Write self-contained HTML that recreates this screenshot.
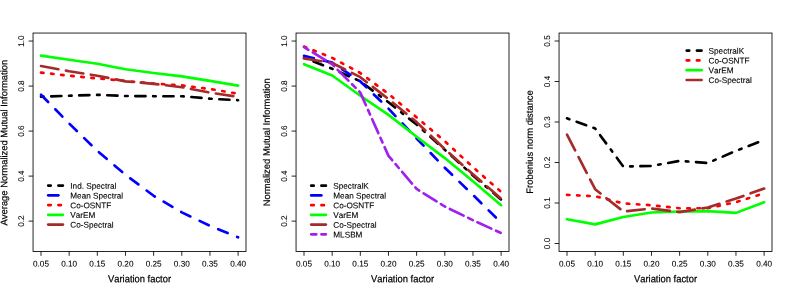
<!DOCTYPE html>
<html><head><meta charset="utf-8"><title>chart</title>
<style>html,body{margin:0;padding:0;background:#fff}body{width:789px;height:293px;overflow:hidden;position:relative;font-family:"Liberation Sans",sans-serif;font-size:0;line-height:0;color:transparent}svg{position:absolute;left:0;top:0}</style></head>
<body>
<svg width="789" height="293" viewBox="0 0 789 293" style="display:block;font-family:'Liberation Sans',sans-serif;font-kerning:none" text-rendering="geometricPrecision">
<rect width="789" height="293" fill="#fff"/>
<polyline points="41.00,96.65 69.16,95.75 97.32,94.85 125.48,95.97 153.64,96.20 181.80,96.20 209.96,98.68 238.12,100.25" fill="none" stroke="#000000" stroke-width="2.65" stroke-linecap="round" stroke-linejoin="round" stroke-dasharray="2.55,7.65,10.20,7.65"/>
<polyline points="41.00,94.74 69.16,123.44 97.32,150.90 125.48,174.76 153.64,195.81 181.80,212.35 209.96,225.86 238.12,237.34" fill="none" stroke="#0000ff" stroke-width="2.65" stroke-linecap="round" stroke-linejoin="round" stroke-dasharray="10.20,10.20"/>
<polyline points="41.00,72.56 69.16,75.72 97.32,78.42 125.48,80.89 153.64,83.59 181.80,85.39 209.96,89.00 238.12,93.72" fill="none" stroke="#ff0000" stroke-width="2.65" stroke-linecap="round" stroke-linejoin="round" stroke-dasharray="2.53,7.59"/>
<polyline points="41.00,55.68 69.16,59.73 97.32,63.79 125.48,69.19 153.64,73.01 181.80,76.39 209.96,80.89 238.12,85.62" fill="none" stroke="#00ff00" stroke-width="2.65" stroke-linecap="round" stroke-linejoin="round"/>
<polyline points="41.00,66.04 69.16,71.21 97.32,75.72 125.48,81.34 153.64,83.82 181.80,87.20 209.96,92.60 238.12,96.87" fill="none" stroke="#a52a2a" stroke-width="2.65" stroke-linecap="round" stroke-linejoin="round" stroke-dasharray="17.71,7.59"/>
<rect x="33.05" y="33.05" width="212.95" height="218.45" fill="none" stroke="#000" stroke-width="0.85"/>
<line x1="41.00" y1="251.50" x2="41.00" y2="255.80" stroke="#000" stroke-width="0.85"/>
<line x1="69.16" y1="251.50" x2="69.16" y2="255.80" stroke="#000" stroke-width="0.85"/>
<line x1="97.32" y1="251.50" x2="97.32" y2="255.80" stroke="#000" stroke-width="0.85"/>
<line x1="125.48" y1="251.50" x2="125.48" y2="255.80" stroke="#000" stroke-width="0.85"/>
<line x1="153.64" y1="251.50" x2="153.64" y2="255.80" stroke="#000" stroke-width="0.85"/>
<line x1="181.80" y1="251.50" x2="181.80" y2="255.80" stroke="#000" stroke-width="0.85"/>
<line x1="209.96" y1="251.50" x2="209.96" y2="255.80" stroke="#000" stroke-width="0.85"/>
<line x1="238.12" y1="251.50" x2="238.12" y2="255.80" stroke="#000" stroke-width="0.85"/>
<line x1="28.60" y1="221.13" x2="33.05" y2="221.13" stroke="#000" stroke-width="0.85"/>
<line x1="28.60" y1="176.11" x2="33.05" y2="176.11" stroke="#000" stroke-width="0.85"/>
<line x1="28.60" y1="131.09" x2="33.05" y2="131.09" stroke="#000" stroke-width="0.85"/>
<line x1="28.60" y1="86.07" x2="33.05" y2="86.07" stroke="#000" stroke-width="0.85"/>
<line x1="28.60" y1="41.05" x2="33.05" y2="41.05" stroke="#000" stroke-width="0.85"/>
<line x1="48.20" y1="185.60" x2="62.90" y2="185.60" stroke="#000000" stroke-width="2.65" stroke-linecap="round" stroke-dasharray="2.55,7.65,10.20,7.65"/>
<line x1="48.20" y1="195.34" x2="62.90" y2="195.34" stroke="#0000ff" stroke-width="2.65" stroke-linecap="round" stroke-dasharray="10.20,10.20"/>
<line x1="48.20" y1="205.08" x2="62.90" y2="205.08" stroke="#ff0000" stroke-width="2.65" stroke-linecap="round" stroke-dasharray="2.55,7.65"/>
<line x1="48.20" y1="214.82" x2="62.90" y2="214.82" stroke="#00ff00" stroke-width="2.65" stroke-linecap="round"/>
<line x1="48.20" y1="224.56" x2="62.90" y2="224.56" stroke="#a52a2a" stroke-width="2.65" stroke-linecap="round" stroke-dasharray="17.85,7.65"/>
<polyline points="304.00,57.93 332.16,68.74 360.32,81.34 388.48,102.28 416.64,124.56 444.80,149.77 472.96,175.43 501.12,199.52" fill="none" stroke="#000000" stroke-width="2.65" stroke-linecap="round" stroke-linejoin="round" stroke-dasharray="2.55,7.65,10.20,7.65"/>
<polyline points="304.00,55.91 332.16,62.55 360.32,81.46 388.48,108.58 416.64,138.52 444.80,167.78 472.96,194.91 501.12,222.71" fill="none" stroke="#0000ff" stroke-width="2.65" stroke-linecap="round" stroke-linejoin="round" stroke-dasharray="10.20,10.20"/>
<polyline points="304.00,46.56 332.16,57.82 360.32,73.01 388.48,93.84 416.64,117.36 444.80,141.22 472.96,167.11 501.12,191.87" fill="none" stroke="#ff0000" stroke-width="2.65" stroke-linecap="round" stroke-linejoin="round" stroke-dasharray="2.53,7.59"/>
<polyline points="304.00,64.24 332.16,75.49 360.32,95.75 388.48,114.88 416.64,136.72 444.80,158.10 472.96,181.29 501.12,205.15" fill="none" stroke="#00ff00" stroke-width="2.65" stroke-linecap="round" stroke-linejoin="round"/>
<polyline points="304.00,58.38 332.16,63.00 360.32,77.18 388.48,99.13 416.64,122.09 444.80,149.10 472.96,174.31 501.12,198.62" fill="none" stroke="#a52a2a" stroke-width="2.65" stroke-linecap="round" stroke-linejoin="round" stroke-dasharray="17.71,7.59"/>
<polyline points="304.00,47.13 332.16,64.24 360.32,92.60 388.48,155.85 416.64,188.94 444.80,206.50 472.96,220.23 501.12,233.06" fill="none" stroke="#a020f0" stroke-width="2.65" stroke-linecap="round" stroke-linejoin="round" stroke-dasharray="5.10,5.10,15.30,5.10"/>
<rect x="296.05" y="33.05" width="212.95" height="218.45" fill="none" stroke="#000" stroke-width="0.85"/>
<line x1="304.00" y1="251.50" x2="304.00" y2="255.80" stroke="#000" stroke-width="0.85"/>
<line x1="332.16" y1="251.50" x2="332.16" y2="255.80" stroke="#000" stroke-width="0.85"/>
<line x1="360.32" y1="251.50" x2="360.32" y2="255.80" stroke="#000" stroke-width="0.85"/>
<line x1="388.48" y1="251.50" x2="388.48" y2="255.80" stroke="#000" stroke-width="0.85"/>
<line x1="416.64" y1="251.50" x2="416.64" y2="255.80" stroke="#000" stroke-width="0.85"/>
<line x1="444.80" y1="251.50" x2="444.80" y2="255.80" stroke="#000" stroke-width="0.85"/>
<line x1="472.96" y1="251.50" x2="472.96" y2="255.80" stroke="#000" stroke-width="0.85"/>
<line x1="501.12" y1="251.50" x2="501.12" y2="255.80" stroke="#000" stroke-width="0.85"/>
<line x1="291.60" y1="221.13" x2="296.05" y2="221.13" stroke="#000" stroke-width="0.85"/>
<line x1="291.60" y1="176.11" x2="296.05" y2="176.11" stroke="#000" stroke-width="0.85"/>
<line x1="291.60" y1="131.09" x2="296.05" y2="131.09" stroke="#000" stroke-width="0.85"/>
<line x1="291.60" y1="86.07" x2="296.05" y2="86.07" stroke="#000" stroke-width="0.85"/>
<line x1="291.60" y1="41.05" x2="296.05" y2="41.05" stroke="#000" stroke-width="0.85"/>
<line x1="311.20" y1="185.65" x2="325.90" y2="185.65" stroke="#000000" stroke-width="2.65" stroke-linecap="round" stroke-dasharray="2.55,7.65,10.20,7.65"/>
<line x1="311.20" y1="195.39" x2="325.90" y2="195.39" stroke="#0000ff" stroke-width="2.65" stroke-linecap="round" stroke-dasharray="10.20,10.20"/>
<line x1="311.20" y1="205.13" x2="325.90" y2="205.13" stroke="#ff0000" stroke-width="2.65" stroke-linecap="round" stroke-dasharray="2.55,7.65"/>
<line x1="311.20" y1="214.87" x2="325.90" y2="214.87" stroke="#00ff00" stroke-width="2.65" stroke-linecap="round"/>
<line x1="311.20" y1="224.61" x2="325.90" y2="224.61" stroke="#a52a2a" stroke-width="2.65" stroke-linecap="round" stroke-dasharray="17.85,7.65"/>
<line x1="311.20" y1="234.35" x2="325.90" y2="234.35" stroke="#a020f0" stroke-width="2.65" stroke-linecap="round" stroke-dasharray="5.10,5.10,15.30,5.10"/>
<polyline points="567.00,118.36 595.16,128.48 623.32,166.55 651.48,165.94 679.64,160.88 707.80,163.03 735.96,150.84 764.12,140.06" fill="none" stroke="#000000" stroke-width="2.65" stroke-linecap="round" stroke-linejoin="round" stroke-dasharray="2.55,7.65,10.20,7.65"/>
<polyline points="567.00,194.90 595.16,196.24 623.32,203.41 651.48,205.23 679.64,208.26 707.80,208.26 735.96,202.19 764.12,193.28" fill="none" stroke="#ff0000" stroke-width="2.65" stroke-linecap="round" stroke-linejoin="round" stroke-dasharray="2.53,7.59"/>
<polyline points="567.00,219.20 595.16,224.38 623.32,216.97 651.48,212.52 679.64,211.50 707.80,211.10 735.96,212.88 764.12,202.19" fill="none" stroke="#00ff00" stroke-width="2.65" stroke-linecap="round" stroke-linejoin="round"/>
<polyline points="567.00,134.56 595.16,189.23 623.32,211.50 651.48,208.55 679.64,212.15 707.80,207.45 735.96,198.55 764.12,188.50" fill="none" stroke="#a52a2a" stroke-width="2.65" stroke-linecap="round" stroke-linejoin="round" stroke-dasharray="17.71,7.59"/>
<rect x="559.05" y="33.05" width="212.95" height="218.45" fill="none" stroke="#000" stroke-width="0.85"/>
<line x1="567.00" y1="251.50" x2="567.00" y2="255.80" stroke="#000" stroke-width="0.85"/>
<line x1="595.16" y1="251.50" x2="595.16" y2="255.80" stroke="#000" stroke-width="0.85"/>
<line x1="623.32" y1="251.50" x2="623.32" y2="255.80" stroke="#000" stroke-width="0.85"/>
<line x1="651.48" y1="251.50" x2="651.48" y2="255.80" stroke="#000" stroke-width="0.85"/>
<line x1="679.64" y1="251.50" x2="679.64" y2="255.80" stroke="#000" stroke-width="0.85"/>
<line x1="707.80" y1="251.50" x2="707.80" y2="255.80" stroke="#000" stroke-width="0.85"/>
<line x1="735.96" y1="251.50" x2="735.96" y2="255.80" stroke="#000" stroke-width="0.85"/>
<line x1="764.12" y1="251.50" x2="764.12" y2="255.80" stroke="#000" stroke-width="0.85"/>
<line x1="554.60" y1="243.50" x2="559.05" y2="243.50" stroke="#000" stroke-width="0.85"/>
<line x1="554.60" y1="203.00" x2="559.05" y2="203.00" stroke="#000" stroke-width="0.85"/>
<line x1="554.60" y1="162.50" x2="559.05" y2="162.50" stroke="#000" stroke-width="0.85"/>
<line x1="554.60" y1="122.00" x2="559.05" y2="122.00" stroke="#000" stroke-width="0.85"/>
<line x1="554.60" y1="81.50" x2="559.05" y2="81.50" stroke="#000" stroke-width="0.85"/>
<line x1="554.60" y1="41.00" x2="559.05" y2="41.00" stroke="#000" stroke-width="0.85"/>
<line x1="686.70" y1="50.62" x2="701.60" y2="50.62" stroke="#000000" stroke-width="2.65" stroke-linecap="round" stroke-dasharray="2.55,7.65,10.20,7.65"/>
<line x1="686.70" y1="60.40" x2="701.60" y2="60.40" stroke="#ff0000" stroke-width="2.65" stroke-linecap="round" stroke-dasharray="2.55,7.65"/>
<line x1="686.70" y1="70.18" x2="701.60" y2="70.18" stroke="#00ff00" stroke-width="2.65" stroke-linecap="round"/>
<line x1="686.70" y1="79.96" x2="701.60" y2="79.96" stroke="#a52a2a" stroke-width="2.65" stroke-linecap="round" stroke-dasharray="17.85,7.65"/>
<g style="opacity:0.999" stroke="#000" stroke-width="0.22">
<text transform="translate(41.00,266.50) skewY(0.05)" font-size="8.20" text-anchor="middle" fill="#000" stroke-width="0.1">0.05</text>
<text transform="translate(69.16,266.50) skewY(0.05)" font-size="8.20" text-anchor="middle" fill="#000" stroke-width="0.1">0.10</text>
<text transform="translate(97.32,266.50) skewY(0.05)" font-size="8.20" text-anchor="middle" fill="#000" stroke-width="0.1">0.15</text>
<text transform="translate(125.48,266.50) skewY(0.05)" font-size="8.20" text-anchor="middle" fill="#000" stroke-width="0.1">0.20</text>
<text transform="translate(153.64,266.50) skewY(0.05)" font-size="8.20" text-anchor="middle" fill="#000" stroke-width="0.1">0.25</text>
<text transform="translate(181.80,266.50) skewY(0.05)" font-size="8.20" text-anchor="middle" fill="#000" stroke-width="0.1">0.30</text>
<text transform="translate(209.96,266.50) skewY(0.05)" font-size="8.20" text-anchor="middle" fill="#000" stroke-width="0.1">0.35</text>
<text transform="translate(238.12,266.50) skewY(0.05)" font-size="8.20" text-anchor="middle" fill="#000" stroke-width="0.1">0.40</text>
<text transform="translate(24.05,221.13) rotate(-90.05)" font-size="8.20" text-anchor="middle" fill="#000" stroke-width="0.1">0.2</text>
<text transform="translate(24.05,176.11) rotate(-90.05)" font-size="8.20" text-anchor="middle" fill="#000" stroke-width="0.1">0.4</text>
<text transform="translate(24.05,131.09) rotate(-90.05)" font-size="8.20" text-anchor="middle" fill="#000" stroke-width="0.1">0.6</text>
<text transform="translate(24.05,86.07) rotate(-90.05)" font-size="8.20" text-anchor="middle" fill="#000" stroke-width="0.1">0.8</text>
<text transform="translate(24.05,41.05) rotate(-90.05)" font-size="8.20" text-anchor="middle" fill="#000" stroke-width="0.1">1.0</text>
<text transform="translate(139.53,282.30) skewY(0.03) scale(1,1.07)" font-size="9.38" text-anchor="middle" fill="#000">Variation factor</text>
<text transform="translate(7.25,142.60) rotate(-90.03)" font-size="9.42" text-anchor="middle" fill="#000">Average Normalized Mutual Information</text>
<text transform="translate(70.30,188.65) skewY(0.05)" font-size="8.20" fill="#000" stroke-width="0.12">Ind. Spectral</text>
<text transform="translate(70.30,198.39) skewY(0.05)" font-size="8.20" fill="#000" stroke-width="0.12">Mean Spectral</text>
<text transform="translate(70.30,208.13) skewY(0.05)" font-size="8.20" fill="#000" stroke-width="0.12">Co-OSNTF</text>
<text transform="translate(70.30,217.87) skewY(0.05)" font-size="8.20" fill="#000" stroke-width="0.12">VarEM</text>
<text transform="translate(70.30,227.61) skewY(0.05)" font-size="8.20" fill="#000" stroke-width="0.12">Co-Spectral</text>
<text transform="translate(304.00,266.50) skewY(0.05)" font-size="8.20" text-anchor="middle" fill="#000" stroke-width="0.1">0.05</text>
<text transform="translate(332.16,266.50) skewY(0.05)" font-size="8.20" text-anchor="middle" fill="#000" stroke-width="0.1">0.10</text>
<text transform="translate(360.32,266.50) skewY(0.05)" font-size="8.20" text-anchor="middle" fill="#000" stroke-width="0.1">0.15</text>
<text transform="translate(388.48,266.50) skewY(0.05)" font-size="8.20" text-anchor="middle" fill="#000" stroke-width="0.1">0.20</text>
<text transform="translate(416.64,266.50) skewY(0.05)" font-size="8.20" text-anchor="middle" fill="#000" stroke-width="0.1">0.25</text>
<text transform="translate(444.80,266.50) skewY(0.05)" font-size="8.20" text-anchor="middle" fill="#000" stroke-width="0.1">0.30</text>
<text transform="translate(472.96,266.50) skewY(0.05)" font-size="8.20" text-anchor="middle" fill="#000" stroke-width="0.1">0.35</text>
<text transform="translate(501.12,266.50) skewY(0.05)" font-size="8.20" text-anchor="middle" fill="#000" stroke-width="0.1">0.40</text>
<text transform="translate(287.05,221.13) rotate(-90.05)" font-size="8.20" text-anchor="middle" fill="#000" stroke-width="0.1">0.2</text>
<text transform="translate(287.05,176.11) rotate(-90.05)" font-size="8.20" text-anchor="middle" fill="#000" stroke-width="0.1">0.4</text>
<text transform="translate(287.05,131.09) rotate(-90.05)" font-size="8.20" text-anchor="middle" fill="#000" stroke-width="0.1">0.6</text>
<text transform="translate(287.05,86.07) rotate(-90.05)" font-size="8.20" text-anchor="middle" fill="#000" stroke-width="0.1">0.8</text>
<text transform="translate(287.05,41.05) rotate(-90.05)" font-size="8.20" text-anchor="middle" fill="#000" stroke-width="0.1">1.0</text>
<text transform="translate(402.52,282.30) skewY(0.03) scale(1,1.07)" font-size="9.38" text-anchor="middle" fill="#000">Variation factor</text>
<text transform="translate(269.85,142.25) rotate(-90.03)" font-size="9.42" text-anchor="middle" fill="#000">Normalized Mutual Information</text>
<text transform="translate(333.30,188.70) skewY(0.05)" font-size="8.20" fill="#000" stroke-width="0.12">SpectralK</text>
<text transform="translate(333.30,198.44) skewY(0.05)" font-size="8.20" fill="#000" stroke-width="0.12">Mean Spectral</text>
<text transform="translate(333.30,208.18) skewY(0.05)" font-size="8.20" fill="#000" stroke-width="0.12">Co-OSNTF</text>
<text transform="translate(333.30,217.92) skewY(0.05)" font-size="8.20" fill="#000" stroke-width="0.12">VarEM</text>
<text transform="translate(333.30,227.66) skewY(0.05)" font-size="8.20" fill="#000" stroke-width="0.12">Co-Spectral</text>
<text transform="translate(333.30,237.40) skewY(0.05)" font-size="8.20" fill="#000" stroke-width="0.12">MLSBM</text>
<text transform="translate(567.00,266.50) skewY(0.05)" font-size="8.20" text-anchor="middle" fill="#000" stroke-width="0.1">0.05</text>
<text transform="translate(595.16,266.50) skewY(0.05)" font-size="8.20" text-anchor="middle" fill="#000" stroke-width="0.1">0.10</text>
<text transform="translate(623.32,266.50) skewY(0.05)" font-size="8.20" text-anchor="middle" fill="#000" stroke-width="0.1">0.15</text>
<text transform="translate(651.48,266.50) skewY(0.05)" font-size="8.20" text-anchor="middle" fill="#000" stroke-width="0.1">0.20</text>
<text transform="translate(679.64,266.50) skewY(0.05)" font-size="8.20" text-anchor="middle" fill="#000" stroke-width="0.1">0.25</text>
<text transform="translate(707.80,266.50) skewY(0.05)" font-size="8.20" text-anchor="middle" fill="#000" stroke-width="0.1">0.30</text>
<text transform="translate(735.96,266.50) skewY(0.05)" font-size="8.20" text-anchor="middle" fill="#000" stroke-width="0.1">0.35</text>
<text transform="translate(764.12,266.50) skewY(0.05)" font-size="8.20" text-anchor="middle" fill="#000" stroke-width="0.1">0.40</text>
<text transform="translate(550.05,243.50) rotate(-90.05)" font-size="8.20" text-anchor="middle" fill="#000" stroke-width="0.1">0.0</text>
<text transform="translate(550.05,203.00) rotate(-90.05)" font-size="8.20" text-anchor="middle" fill="#000" stroke-width="0.1">0.1</text>
<text transform="translate(550.05,162.50) rotate(-90.05)" font-size="8.20" text-anchor="middle" fill="#000" stroke-width="0.1">0.2</text>
<text transform="translate(550.05,122.00) rotate(-90.05)" font-size="8.20" text-anchor="middle" fill="#000" stroke-width="0.1">0.3</text>
<text transform="translate(550.05,81.50) rotate(-90.05)" font-size="8.20" text-anchor="middle" fill="#000" stroke-width="0.1">0.4</text>
<text transform="translate(550.05,41.00) rotate(-90.05)" font-size="8.20" text-anchor="middle" fill="#000" stroke-width="0.1">0.5</text>
<text transform="translate(665.52,282.30) skewY(0.03) scale(1,1.07)" font-size="9.38" text-anchor="middle" fill="#000">Variation factor</text>
<text transform="translate(532.85,141.95) rotate(-90.03)" font-size="9.42" text-anchor="middle" fill="#000">Frobenius norm distance</text>
<text transform="translate(708.60,53.67) skewY(0.05)" font-size="8.20" fill="#000" stroke-width="0.12">SpectralK</text>
<text transform="translate(708.60,63.45) skewY(0.05)" font-size="8.20" fill="#000" stroke-width="0.12">Co-OSNTF</text>
<text transform="translate(708.60,73.23) skewY(0.05)" font-size="8.20" fill="#000" stroke-width="0.12">VarEM</text>
<text transform="translate(708.60,83.01) skewY(0.05)" font-size="8.20" fill="#000" stroke-width="0.12">Co-Spectral</text>
</g>
</svg>
</body></html>
